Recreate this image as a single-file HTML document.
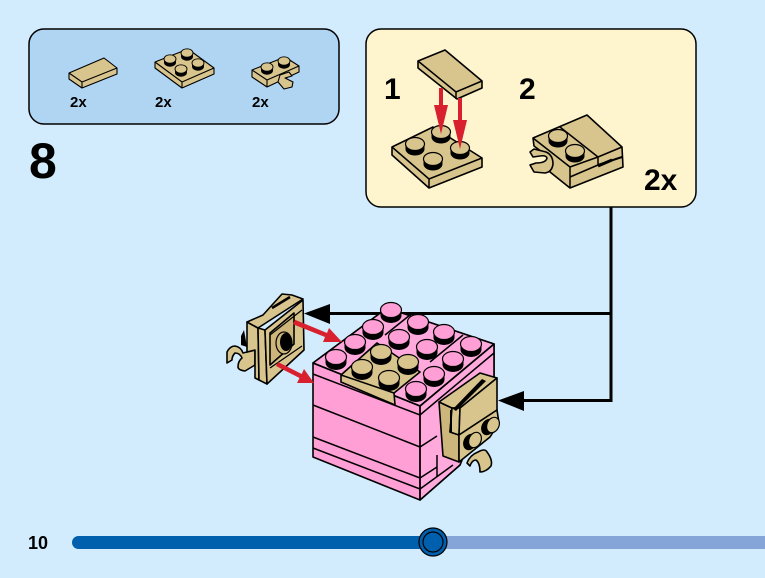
<!DOCTYPE html>
<html><head><meta charset="utf-8">
<style>
html,body{margin:0;padding:0;background:#d3ecfd;width:765px;height:578px;overflow:hidden}
svg{display:block}
text{font-family:"Liberation Sans",sans-serif;font-weight:bold;fill:#000}
.t{fill:#d8c48d;stroke:#000;stroke-width:1.6;stroke-linejoin:round}
.d{fill:#cdb67c;stroke:#000;stroke-width:1.6;stroke-linejoin:round}
.p{fill:#ff9fd6;stroke:#000;stroke-width:1.6;stroke-linejoin:round}
.q{fill:#ffa9dc;stroke:#000;stroke-width:1.6;stroke-linejoin:round}
.l{fill:none;stroke:#000;stroke-width:1.5}
.s{stroke-width:1.1}
.r{fill:#d8202f}
</style></head><body>
<svg width="765" height="578" viewBox="0 0 765 578" xmlns="http://www.w3.org/2000/svg">
<defs>
<g id="st"><path d="M-9.500 0V5A9.500 6.500 0 0 0 9.500 5V0Z" fill="#000"/><ellipse cx="0" cy="0" rx="9.500" ry="6.500" fill="#d8c48d" stroke="#000" stroke-width="1.200"/></g>
<g id="sb"><path d="M-10.500 0V5.500A10.500 7.500 0 0 0 10.500 5.500V0Z" fill="#000"/><ellipse cx="0" cy="0" rx="10.500" ry="7.500" fill="#d8c48d" stroke="#000" stroke-width="1.200"/></g>
<g id="sp"><path d="M-10.500 0V5.500A10.500 7.500 0 0 0 10.500 5.500V0Z" fill="#000"/><ellipse cx="0" cy="0" rx="10.500" ry="7.500" fill="#ff9fd6" stroke="#000" stroke-width="1.200"/></g>
<g id="sm"><path d="M-6 0V3.500A6 4.200 0 0 0 6 3.500V0Z" fill="#000"/><ellipse cx="0" cy="0" rx="6" ry="4.200" fill="#d8c48d" stroke="#000" stroke-width=".9"/></g>
</defs>

<!-- parts panel -->
<rect x="29" y="29" width="310" height="95" rx="15" fill="#b0d5f3" stroke="#000" stroke-width="1.500"/>
<polygon class="t s" points="69,73 104,58 117,68 117,74 82,88 69,79"/>
<path class="l s" d="M69 73L82 82L117 68M82 82V88"/>
<polygon class="t s" points="155,62 188,49 214,68 214,74 182,88 155,68"/>
<path class="l s" d="M155 62L182 82L214 68M182 82V88"/>
<use href="#sm" x="170" y="59"/><use href="#sm" x="187" y="53"/><use href="#sm" x="198" y="63"/><use href="#sm" x="181" y="69"/>
<polygon class="t s" points="252,70 285,57 299,66 299,72 267,87 252,77"/>
<path class="l s" d="M252 70L267 80L299 66M267 80V87"/>
<use href="#sm" x="267" y="67"/><use href="#sm" x="284" y="61"/>
<path class="t s" d="M280 75L289 72L292 76L285 78L293 82L292 87L284 89L278 82Z"/>
<text x="70" y="107" font-size="15">2x</text>
<text x="155" y="107" font-size="15">2x</text>
<text x="252" y="107" font-size="15">2x</text>
<text x="29" y="178" font-size="50">8</text>

<!-- connectors -->
<path d="M611 207V400.500H520M611 313.500H328" fill="none" stroke="#000" stroke-width="3"/>
<polygon points="304,313.500 330,304 330,324" fill="#000"/>
<polygon points="498,400.500 524,391 524,411" fill="#000"/>

<!-- sub panel -->
<rect x="366" y="29" width="330" height="178" rx="15" fill="#fef4cd" stroke="#000" stroke-width="1.500"/>
<text x="384" y="99" font-size="30">1</text>
<text x="519" y="99" font-size="30">2</text>
<text x="644" y="190" font-size="30">2x</text>
<polygon class="t" points="392,147 433,127 482,158 482,167 429,188 392,155"/>
<path class="l" d="M392 147L429 179L482 158M429 179V188"/>
<use href="#st" x="415" y="144"/><use href="#st" x="441" y="132"/><use href="#st" x="460" y="148"/><use href="#st" x="433" y="159"/>
<polygon class="t" points="418,61 445,50 482,81 482,88 457,99 418,68"/>
<path class="l" d="M418 61L456 92L482 81M456 92V99"/>
<rect class="r" x="439" y="88" width="4" height="20"/>
<polygon class="r" points="434,105 448,105 441,134"/>
<rect class="r" x="458" y="98" width="4" height="26"/>
<polygon class="r" points="453,120 467,120 460,149"/>
<!-- piece 2 -->
<polygon class="t" points="533,138 587,115 622,147 623,167 570,188 550,172 550,158 534,146"/>
<path class="t" d="M530 152L534 149L546 152Q553 155 553 164Q552 172 545 173L534 172L530 165L536 163Q546 163 547 158Q546 155 540 156L533 157Z"/>
<path class="l" d="M533 138L570 167L598 157L622 147M560 127L598 157M598 157V165M570 177L598 165M570 167V188"/>
<path d="M598 165L622 157" stroke="#000" stroke-width="2"/>
<path d="M598 166L612 160" stroke="#000" stroke-width="3"/>
<use href="#st" x="558" y="136"/><use href="#st" x="575" y="151"/>

<!-- cube -->
<polygon class="p" points="313,363 387,308 494,344 494,380 460,465 420,500 313,457"/>
<polygon class="q" points="420,406 494,344 494,380 460,465 420,500"/>
<polygon class="q" points="313,363 387,308 494,344 420,406"/>
<path class="l" d="M313 363L420 406L494 344M313 374L420 415L494 353M420 406V500M313 405L420 447L437 436M313 437L420 478L437 467M313 448L420 489L453 465M437 455V477M385 335L410 315M430 362L463 335" stroke-width="1.400"/>
<use href="#sp" x="391" y="310"/>
<use href="#sp" x="336" y="357"/><use href="#sp" x="355" y="342"/><use href="#sp" x="373" y="327"/>
<use href="#sp" x="418" y="322"/><use href="#sp" x="399" y="337"/><use href="#sp" x="444" y="332"/><use href="#sp" x="427" y="347"/>
<use href="#sp" x="471" y="344"/><use href="#sp" x="453" y="359"/><use href="#sp" x="434" y="374"/><use href="#sp" x="416" y="389"/>
<polygon class="t" points="341,375 377,343 420,372 394,393 395,405 341,382"/>
<path class="l" d="M341 375L394 393"/>
<use href="#sb" x="381" y="352"/><use href="#sb" x="362" y="367"/><use href="#sb" x="408" y="362"/><use href="#sb" x="389" y="378"/>

<!-- right attached piece -->
<path class="t" d="M467 463Q470 455 478 452Q485 448 487 452Q493 460 491 466Q486 472 480 472Q480 463 476 460Q472 460 470 466Z"/>
<polygon class="d" points="439,402 452,408 450,432 459,435 459,462 443,456"/>
<polygon class="t" points="439,402 480,373 497,378 460,408 452,408"/>
<polygon class="t" points="452,408 460,408 459,435 450,432"/>
<polygon class="t" points="460,408 497,378 497,410 459,435"/>
<polygon class="t" points="459,435 497,410 499,423 490,437 459,462"/>
<path d="M453 409L482 379L486 381L456 411Z" fill="#000"/>
<path d="M451 410V432" stroke="#000" stroke-width="2"/>
<ellipse cx="470" cy="442" rx="6.500" ry="8.500" transform="rotate(25 470 442)" fill="#000"/>
<ellipse cx="475" cy="440" rx="6" ry="8" transform="rotate(25 475 440)" fill="#d8c48d" stroke="#000" stroke-width="1.200"/>
<ellipse cx="488" cy="427" rx="6.500" ry="8.500" transform="rotate(25 488 427)" fill="#000"/>
<ellipse cx="493" cy="425" rx="6" ry="8" transform="rotate(25 493 425)" fill="#d8c48d" stroke="#000" stroke-width="1.200"/>

<!-- left piece -->
<path d="M244 330L241 336V345L247 347Z" fill="#000"/>
<path class="t" d="M227 352Q230 346 235 346Q241 347 243 353L255 350V365L245 371Q238 370 238 367Q238 361 242 358Q240 353 235 353Q232 356 232 360L227 363Z"/>
<polygon class="t" points="247,322 258,328 259,380 255,378 255,350 247,352"/>
<polygon class="t" points="247,322 263,315 282,294 292,295 303,299 258,328"/>
<polygon class="t" points="258,328 265,330 267,384 259,380"/>
<polygon class="t" points="265,330 303,300 304,350 267,384"/>
<polygon class="d" points="270,333 294,313 294,344 270,365"/>
<path d="M270 335L302 310M270 368L302 346" stroke="#000" stroke-width="1.200" fill="none"/>
<ellipse cx="284" cy="343" rx="8" ry="11" fill="#cdb67c" stroke="#000" stroke-width="1.200"/>
<ellipse cx="286" cy="342" rx="6" ry="9" fill="#000"/>
<path d="M272 308L290 297" stroke="#000" stroke-width="2.500"/>

<!-- red arrows -->
<polygon class="r" points="295,319.700 327,333 329,328 342,342 323,342 325,337 293,324.300"/>
<polygon class="r" points="278,362 301.700,374 304,369 314,383 297,383 299.500,378 276,366"/>

<!-- progress -->
<rect x="430" y="536" width="335" height="13" fill="#85a5d9"/>
<rect x="72" y="536" width="360" height="13" rx="6.500" fill="#0160ae"/>
<circle cx="433" cy="542" r="14" fill="#0160ae" stroke="#000" stroke-width="1.200"/>
<circle cx="433" cy="542" r="10" fill="#0160ae" stroke="#000" stroke-width="1.200"/>
<text x="28" y="549" font-size="18">10</text>
</svg>
</body></html>
